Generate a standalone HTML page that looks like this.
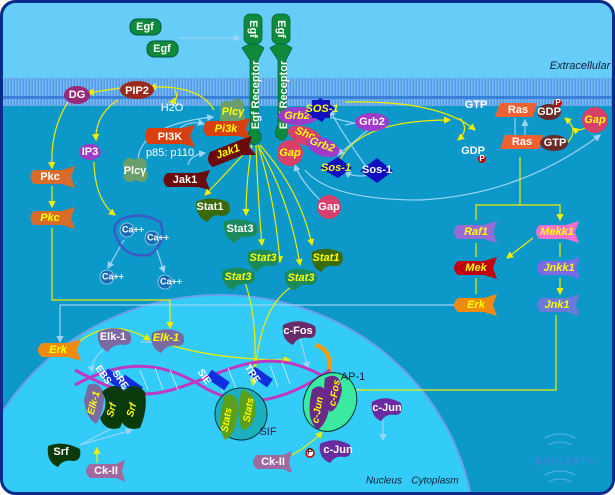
<!DOCTYPE html>
<html><head><meta charset="utf-8"><style>
html,body{margin:0;padding:0;background:#fff;width:615px;height:495px;overflow:hidden;}
svg{display:block;}
text{font-family:"Liberation Sans",sans-serif;font-weight:bold;font-size:11px;text-anchor:middle;dominant-baseline:middle;}
.w{fill:#fff}.y{fill:#ff0;font-style:italic}
.ay{stroke:#ee0;stroke-width:1.2;fill:none;marker-end:url(#my)}
.ab{stroke:#9cd4f4;stroke-width:1.2;fill:none;marker-end:url(#mb)}
</style></head><body>
<svg width="615" height="495" viewBox="0 0 615 495" xmlns="http://www.w3.org/2000/svg">
<defs>
<marker id="my" markerWidth="6" markerHeight="6" refX="5" refY="3" orient="auto"><path d="M0,0L6,3L0,6z" fill="#ee0"/></marker>
<marker id="mb" markerWidth="6" markerHeight="6" refX="5" refY="3" orient="auto"><path d="M0,0L6,3L0,6z" fill="#9cd4f4"/></marker>
<pattern id="mem" width="3" height="28" patternUnits="userSpaceOnUse"><rect width="3" height="28" fill="#4f9be6"/><rect width="1.5" height="28" fill="#7cb8f0"/><rect y="12" width="3" height="3" fill="#3a7fd8"/></pattern>
<clipPath id="fr"><rect x="3" y="3" width="609" height="489" rx="13"/></clipPath>
</defs>
<rect x="0" y="0" width="615" height="495" fill="#fff"/>
<rect x="1.5" y="1.5" width="612" height="492" rx="14" fill="#0c98c8" stroke="#0a2a8a" stroke-width="3"/>
<g clip-path="url(#fr)">
<rect x="3" y="3" width="609" height="75" fill="#66ccf8"/>
<rect x="3" y="78" width="609" height="28" fill="url(#mem)"/>
<ellipse cx="220" cy="540" rx="255" ry="245" fill="#33ccf8" stroke="#6aa0ee" stroke-width="2"/>
</g>
<text x="580" y="66" style="font-weight:normal;font-style:italic;font-size:11px;fill:#123">Extracellular</text>
<text x="384" y="481" style="font-weight:normal;font-style:italic;font-size:10px;fill:#123">Nucleus</text>
<text x="435" y="481" style="font-weight:normal;font-style:italic;font-size:10px;fill:#123">Cytoplasm</text>
<text x="565" y="462" style="font-size:10px;fill:#3a8ad8;letter-spacing:1px">BIOCARTA</text>
<path d="M545,438 q15,-8 30,0 M548,445 q12,-6 24,0 M545,475 q15,-8 30,0 M548,482 q12,-6 24,0" stroke="#5ab0e8" fill="none"/>

<!-- connectors -->
<path class="ab" d="M180,38 H240"/>
<path class="ay" d="M252,145 Q220,180 205,195"/>
<path class="ay" d="M252,145 Q246,180 246,215"/>
<path class="ay" d="M256,145 Q258,200 262,245"/>
<path class="ay" d="M258,145 Q275,200 280,262"/>
<path class="ay" d="M258,145 Q290,200 300,265"/>
<path class="ay" d="M260,145 Q300,190 312,245"/>
<path class="ay" d="M214,110 Q200,85 150,87"/>
<path class="ay" d="M120,88 L88,93"/>
<path class="ay" d="M175,90 Q180,100 170,102"/>
<path class="ay" d="M68,102 Q50,130 52,168"/>
<path class="ay" d="M118,100 Q95,115 96,140"/>
<path class="ay" d="M94,162 Q95,200 115,215"/>
<path class="ay" d="M52,186 V207"/>
<path class="ab" d="M138,160 Q140,125 213,117"/>
<path class="ab" d="M180,128 Q190,120 204,124"/>
<path class="ab" d="M188,165 Q190,155 205,153"/>
<path class="ab" d="M124,240 L108,268"/>
<path class="ab" d="M156,247 L164,272"/>
<path class="ay" d="M52,228 V300 H170 V328"/>
<path class="ab" d="M462,305 H60 V342"/>
<path class="ay" d="M75,345 Q110,315 150,340"/>
<path class="ab" d="M140,342 H160"/>
<path class="ay" d="M170,345 Q220,360 290,360"/>
<path class="ab" d="M300,338 L308,368"/>
<path class="ay" d="M243,277 Q260,320 253,385"/>
<path class="ay" d="M300,282 Q260,300 255,375"/>
<path class="ay" d="M556,315 V390 H340 V410"/>
<path class="ab" d="M383,420 V440"/>
<path class="ay" d="M292,455 Q310,445 322,432"/>
<path class="ay" d="M97,463 V448"/>
<path class="ab" d="M80,445 L118,425 M80,445 L132,430"/>
<path class="ab" d="M118,340 Q90,355 92,372"/>
<path class="ay" d="M345,102 Q440,100 475,130"/>
<path class="ay" d="M460,118 Q470,130 458,140"/>
<path class="ay" d="M340,160 Q360,120 450,120"/>
<path class="ab" d="M380,118 L345,125 M380,120 L338,155"/>
<path class="ab" d="M365,165 Q340,130 330,110"/>
<path class="ab" d="M370,175 Q355,178 345,172"/>
<path class="ab" d="M362,125 L320,115"/>
<path class="ab" d="M320,200 Q300,180 295,165"/>
<path class="ab" d="M305,170 Q330,200 420,200 Q520,195 600,135"/>
<path class="ab" d="M515,118 V136 M525,138 V120"/>
<path class="ay" d="M567,143 Q580,130 565,118"/>
<path class="ay" d="M585,128 Q578,132 573,128"/>
<path class="ay" d="M520,157 V205 H476 V220 M520,205 H560 V220"/>
<path class="ay" d="M476,243 V257 M560,243 V257 M476,278 V294 M560,278 V294"/>
<path class="ay" d="M533,238 L507,258"/>
<path d="M328,380 Q335,350 315,345" stroke="#f90" stroke-width="4" fill="none"/>

<!-- DNA -->
<path d="M75,370 C130,400 150,400 200,380 S280,350 330,380" stroke="#c038c0" stroke-width="3" fill="none"/>
<path d="M75,385 C120,360 160,360 200,385 S280,405 330,370" stroke="#c038c0" stroke-width="3" fill="none"/>
<g stroke="#cfefff" stroke-width="0.8"><path d="M140,370 l8,20 M155,368 l8,22 M170,370 l8,20 M215,372 l8,20 M228,368 l8,20 M270,365 l8,22 M282,362 l8,22"/></g>
<g><rect x="103" y="374" width="22" height="10" fill="#1030e0" transform="rotate(35 114 379)"/><rect x="120" y="380" width="22" height="10" fill="#1030e0" transform="rotate(35 131 385)"/>
<rect x="207" y="375" width="22" height="10" fill="#1030e0" transform="rotate(35 218 380)"/><rect x="250" y="372" width="22" height="10" fill="#1030e0" transform="rotate(35 261 377)"/></g>
<text x="103" y="375" class="w" transform="rotate(55 103 375)" style="font-size:10px">EBS</text>
<text x="120" y="380" class="w" transform="rotate(55 120 380)" style="font-size:10px">SRE</text>
<text x="204" y="377" class="w" transform="rotate(55 204 377)" style="font-size:10px">SIE</text>
<text x="252" y="374" class="w" transform="rotate(55 252 374)" style="font-size:10px">TRE</text>

<!-- receptors -->
<g fill="#0f8a3a" stroke="#064" stroke-width="0.8">
<rect x="244" y="14" width="18" height="30" rx="6"/><rect x="272" y="14" width="18" height="30" rx="6"/>
<path d="M242,48 Q253,40 264,48 L258,60 V130 Q266,140 254,145 Q244,140 250,130 V60z"/>
<path d="M270,48 Q281,40 292,48 L286,60 V125 Q290,140 280,140 Q272,135 278,125 V60z"/>
</g>
<text x="253" y="29" class="w" transform="rotate(90 253 29)">Egf</text>
<text x="281" y="29" class="w" transform="rotate(90 281 29)">Egf</text>
<text x="256" y="95" class="w" transform="rotate(-90 256 95)">Egf Receptor</text>
<text x="284" y="95" class="w" transform="rotate(-90 284 95)">Egf Receptor</text>

<rect x="130" y="19" width="31" height="16" rx="7" fill="#0f8a3a" stroke="#054" /><text x="145" y="27" class="w">Egf</text>
<rect x="147" y="41" width="31" height="16" rx="7" fill="#0f8a3a" stroke="#054"/><text x="162" y="49" class="w">Egf</text>

<ellipse cx="77" cy="95" rx="13" ry="9" fill="#9a2a78"/><text x="77" y="95" class="w">DG</text>
<ellipse cx="137" cy="90" rx="17" ry="9" fill="#9a2a1a"/><text x="137" y="91" class="w">PIP2</text>
<text x="172" y="108" class="w" style="font-weight:normal">H2O</text>
<ellipse cx="90" cy="152" rx="11" ry="8" fill="#a03ac8"/><text x="90" y="152" class="w">IP3</text>
<g fill="#6a9e6a"><circle cx="227" cy="108" r="7"/><circle cx="237" cy="106" r="7"/><circle cx="227" cy="118" r="7"/><circle cx="238" cy="117" r="7"/></g><text x="233" y="112" class="y">Plcγ</text>
<g fill="#6a9e6a"><circle cx="130" cy="165" r="7"/><circle cx="140" cy="165" r="7"/><circle cx="130" cy="175" r="7"/><circle cx="141" cy="175" r="7"/></g><text x="135" y="171" class="w">Plcγ</text>
<path d="M148,128 H183 L195,125 L190,136 L195,147 L183,144 H148 Q142,136 148,128z" fill="#d84010"/><text x="170" y="137" class="w">PI3K</text>
<text x="170" y="153" class="w" style="font-weight:normal">p85: p110</text>
<path d="M207,121 H238 L250,118 L246,129 L250,139 L238,136 H207 Q200,129 207,121z" fill="#d84010"/><text x="226" y="129" class="y">Pi3k</text>
<path d="M210,152 L240,140 L252,136 L249,146 L256,155 L243,155 L213,167 Q205,162 210,152z" fill="#6a0a0a"/><text x="228" y="152" class="y" transform="rotate(-20 228 152)">Jak1</text>
<path d="M167,173 H198 L210,170 L206,180 L210,190 L198,187 H167 Q160,180 167,173z" fill="#6a0a0a"/><text x="185" y="180" class="w">Jak1</text>
<path d="M34,170 H62 L75,166 L71,177 L75,188 L62,184 H34 Q27,177 34,170z" fill="#d86a2a"/><text x="50" y="177" class="w">Pkc</text>
<path d="M34,211 H62 L75,207 L71,218 L75,229 L62,225 H34 Q27,218 34,211z" fill="#d86a2a"/><text x="50" y="218" class="y">Pkc</text>
<path d="M120,220 Q140,210 160,222 Q168,240 150,255 Q125,258 118,240 Q110,228 120,220z" fill="none" stroke="#3a5ac8" stroke-width="2.5"/>
<g fill="#1a6ab0" stroke="#9cd4f4" stroke-width="0.8"><circle cx="127" cy="230" r="7"/><circle cx="152" cy="238" r="7"/><circle cx="107" cy="277" r="7"/><circle cx="165" cy="282" r="7"/></g>
<text x="133" y="230" class="w" style="font-size:9px">Ca++</text><text x="158" y="238" class="w" style="font-size:9px">Ca++</text><text x="113" y="277" class="w" style="font-size:9px">Ca++</text><text x="171" y="282" class="w" style="font-size:9px">Ca++</text>

<path d="M196,202 Q210,195 228,202 Q234,214 222,216 Q212,213 208,222 Q196,218 196,202z" fill="#3a6a0a"/><text x="210" y="207" class="w">Stat1</text>
<path d="M224,222 Q240,216 256,224 Q260,236 250,237 Q240,235 235,243 Q223,238 224,222z" fill="#1a8a5a"/><text x="240" y="229" class="w">Stat3</text>
<path d="M248,252 Q262,246 278,254 Q281,265 272,266 Q262,264 257,272 Q246,266 248,252z" fill="#1a8a5a"/><text x="263" y="258" class="y">Stat3</text>
<path d="M222,271 Q238,264 254,272 Q257,283 248,284 Q238,282 233,290 Q221,285 222,271z" fill="#1a8a5a"/><text x="238" y="277" class="y">Stat3</text>
<path d="M312,252 Q326,245 342,253 Q345,265 336,266 Q326,264 321,272 Q310,266 312,252z" fill="#3a6a0a"/><text x="326" y="258" class="y">Stat1</text>
<path d="M285,272 Q300,265 316,273 Q319,284 310,285 Q300,283 295,291 Q283,286 285,272z" fill="#1a8a5a"/><text x="301" y="278" class="y">Stat3</text>

<ellipse cx="298" cy="116" rx="20" ry="9" fill="#a03ac8"/><text x="297" y="116" class="y">Grb2</text>
<path d="M320,98 L335,108 L322,122 L306,112z M312,100 H330 V118 H312z" fill="#1010c0"/><text x="322" y="109" class="y">SOS-1</text>
<ellipse cx="372" cy="122" rx="17" ry="9" fill="#a03ac8"/><text x="372" y="122" class="w">Grb2</text>
<ellipse cx="305" cy="136" rx="18" ry="9" fill="#d8406a" transform="rotate(20 305 136)"/><text x="305" y="134" class="y" transform="rotate(20 305 134)">Shc</text>
<ellipse cx="323" cy="147" rx="17" ry="9" fill="#a03ac8" transform="rotate(20 323 147)"/><text x="322" y="145" class="y" transform="rotate(20 322 145)">Grb2</text>
<path d="M338,157 L352,168 L338,178 L320,168z" fill="#1010c0"/><text x="336" y="168" class="y">Sos-1</text>
<path d="M377,158 L393,171 L377,183 L360,171z" fill="#1010c0"/><text x="377" y="170" class="w">Sos-1</text>
<circle cx="290" cy="153" r="13" fill="#d8406a"/><text x="290" y="153" class="y">Gap</text>
<circle cx="329" cy="207" r="12" fill="#d8406a"/><text x="329" y="207" class="w">Gap</text>

<text x="476" y="105" class="w">GTP</text>
<text x="473" y="151" class="w">GDP</text><circle cx="482" cy="159" r="4" fill="#c00"/><text x="482" y="159" class="w" style="font-size:8px">P</text>
<path d="M500,103 H537 L533,117 H495z" fill="#f06030"/><text x="518" y="110" class="w">Ras</text>
<ellipse cx="549" cy="112" rx="12" ry="8" fill="#6a2a2a"/><text x="549" y="112" class="w">GDP</text><circle cx="558" cy="103" r="4" fill="#c00"/><text x="558" y="103" class="w" style="font-size:8px">P</text>
<path d="M505,135 H543 L539,149 H500z" fill="#f06030"/><text x="522" y="142" class="w">Ras</text>
<ellipse cx="554" cy="143" rx="14" ry="8" fill="#6a2a2a"/><text x="555" y="143" class="w">GTP</text>
<circle cx="595" cy="120" r="13" fill="#d8406a"/><text x="595" y="120" class="y">Gap</text>

<path d="M458,225 H484 L497,221 L493,232 L497,243 L484,239 H458 Q450,232 458,225z" fill="#9a6ad8"/><text x="476" y="232" class="y">Raf1</text>
<path d="M540,225 H566 L579,221 L575,232 L579,243 L566,239 H540 Q532,232 540,225z" fill="#f070d0"/><text x="557" y="232" class="y">Mekk1</text>
<path d="M458,261 H484 L497,257 L493,268 L497,279 L484,275 H458 Q450,268 458,261z" fill="#c00010"/><text x="476" y="268" class="y">Mek</text>
<path d="M541,261 H567 L580,257 L576,268 L580,279 L567,275 H541 Q533,268 541,261z" fill="#7a6ae8"/><text x="559" y="268" class="y">Jnkk1</text>
<path d="M458,298 H484 L497,294 L493,305 L497,316 L484,312 H458 Q450,305 458,298z" fill="#f08a10"/><text x="476" y="305" class="y">Erk</text>
<path d="M541,298 H567 L580,294 L576,305 L580,316 L567,312 H541 Q533,305 541,298z" fill="#6a7ad8"/><text x="557" y="305" class="y">Jnk1</text>

<path d="M42,343 H68 L81,339 L77,350 L81,361 L68,357 H42 Q34,350 42,343z" fill="#f08a10"/><text x="58" y="350" class="y">Erk</text>
<path d="M98,332 Q115,324 130,333 Q134,345 124,345 Q114,343 108,352 Q96,346 98,332z" fill="#7a6aa0"/><text x="113" y="337" class="w">Elk-1</text>
<path d="M152,333 Q168,325 183,334 Q187,346 177,346 Q167,344 161,353 Q149,347 152,333z" fill="#7a6aa0"/><text x="166" y="338" class="y">Elk-1</text>
<path d="M283,325 Q298,317 315,326 Q318,338 309,338 Q298,336 293,345 Q281,340 283,325z" fill="#6a2a6a"/><text x="298" y="331" class="w">c-Fos</text>
<path d="M88,385 Q100,380 104,395 Q104,412 96,424 Q86,418 84,400z" fill="#7a6aa0"/><text x="94" y="403" class="y" transform="rotate(-75 94 403)" style="font-size:10px">Elk-1</text>
<path d="M102,392 Q115,380 125,392 Q128,410 120,428 Q105,432 100,418 Q110,405 102,392z" fill="#0a3a0a"/><text x="112" y="410" class="y" transform="rotate(-75 112 410)" style="font-size:10px">Srf</text>
<path d="M122,392 Q135,380 145,392 Q148,410 140,428 Q125,432 120,418 Q130,405 122,392z" fill="#0a3a0a"/><text x="132" y="410" class="y" transform="rotate(-75 132 410)" style="font-size:10px">Srf</text>
<path d="M48,446 Q63,440 80,449 Q82,461 73,461 Q63,459 58,467 Q46,462 48,446z" fill="#0a3a0a"/><text x="61" y="452" class="w">Srf</text>
<path d="M90,464 H116 L125,460 L122,471 L125,482 L116,478 H90 Q82,471 90,464z" fill="#a06aa0"/><text x="106" y="471" class="w">Ck-II</text>
<path d="M257,455 H283 L292,451 L289,462 L292,473 L283,469 H257 Q249,462 257,455z" fill="#a06aa0"/><text x="273" y="462" class="w">Ck-II</text>
<circle cx="241" cy="414" r="26" fill="#1ab0c0" stroke="#033" stroke-width="1"/>
<path d="M225,395 Q240,392 238,412 Q236,435 225,440 Q215,425 225,395z" fill="#5aa01a"/><path d="M242,390 Q256,392 256,412 Q252,430 242,430 Q235,410 242,390z" fill="#5aa01a"/>
<text x="227" y="420" class="y" transform="rotate(-80 227 420)" style="font-size:10px">Stats</text><text x="249" y="410" class="y" transform="rotate(-80 249 410)" style="font-size:10px">Stats</text>
<text x="268" y="432" style="font-size:11px;fill:#3a1a3a;font-weight:normal">SIF</text>
<ellipse cx="330" cy="402" rx="26" ry="30" fill="#3aeaa0" stroke="#033" transform="rotate(25 330 402)"/>
<path d="M312,390 Q322,380 330,398 Q330,420 318,430 Q305,420 312,390z" fill="#6a2a8a"/><path d="M325,378 Q340,370 342,390 Q338,410 330,412 Q322,395 325,378z" fill="#6a2a8a"/>
<text x="318" y="410" class="y" transform="rotate(-80 318 410)" style="font-size:10px">c-Jun</text><text x="335" y="393" class="y" transform="rotate(-80 335 393)" style="font-size:10px">c-Fos</text>
<text x="353" y="377" style="font-size:11px;fill:#222;font-weight:normal">AP-1</text>
<path d="M372,402 Q386,394 401,403 Q404,415 395,415 Q386,413 381,421 Q370,416 372,402z" fill="#6a2aa0"/><text x="387" y="408" class="w">c-Jun</text>
<path d="M320,444 Q335,436 350,445 Q353,457 344,457 Q335,455 330,463 Q318,458 320,444z" fill="#6a2aa0"/><text x="338" y="450" class="w">c-Jun</text>
<circle cx="310" cy="453" r="4" fill="#fff" stroke="#c00" stroke-width="1.5"/><text x="310" y="452" style="font-size:9px;fill:#333">P</text>
</svg>
</body></html>
